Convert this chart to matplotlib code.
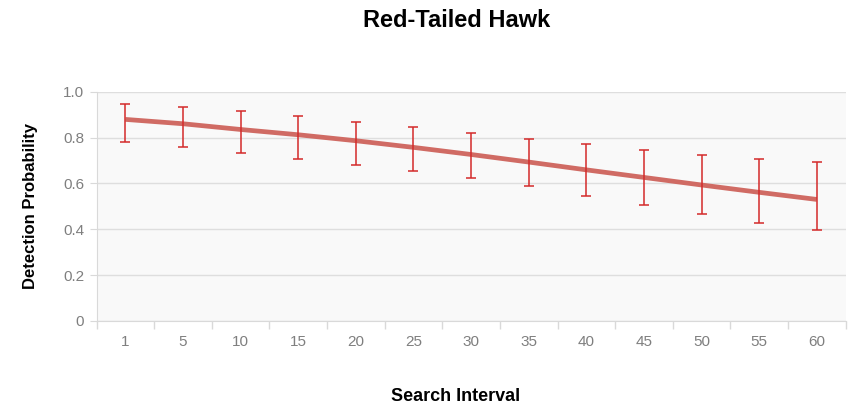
import numpy as np
import matplotlib
matplotlib.use("Agg")
import matplotlib.pyplot as plt

plt.rcParams['font.family'] = ['Liberation Sans', 'DejaVu Sans']

# data
intervals = ['1', '5', '10', '15', '20', '25', '30', '35', '40', '45', '50', '55', '60']
prob = [0.879, 0.860, 0.835, 0.812, 0.786, 0.757, 0.726, 0.693, 0.659, 0.626, 0.593, 0.561, 0.530]
upper = [0.946, 0.934, 0.915, 0.895, 0.869, 0.845, 0.819, 0.793, 0.770, 0.745, 0.725, 0.707, 0.694]
lower = [0.779, 0.758, 0.733, 0.707, 0.681, 0.655, 0.623, 0.587, 0.545, 0.504, 0.465, 0.428, 0.398]

x = np.arange(len(intervals))
prob = np.array(prob)
err = [prob - np.array(lower), np.array(upper) - prob]

fig = plt.figure(figsize=(8.55, 4.11), dpi=100)
ax = fig.add_axes([0.113, 0.219, 0.876, 0.558])
ax.set_facecolor('#f9f9f9')

ax.plot(x, prob, color='#d06b64', linewidth=3.4, solid_capstyle='butt', zorder=3)
ax.errorbar(x, prob, yerr=err, fmt='none', ecolor='#d42a2a', elinewidth=1.1,
            capsize=3.6, capthick=1.1, zorder=4)

ax.set_xlim(-0.5, len(intervals) - 0.5)
ax.set_ylim(0, 1.0)
ax.set_yticks([0, 0.2, 0.4, 0.6, 0.8, 1.0])
ax.set_yticklabels(['0', '0.2', '0.4', '0.6', '0.8', '1.0'])
ax.set_xticks(x)
ax.set_xticklabels(intervals)
ax.set_xticks(np.arange(len(intervals) + 1) - 0.5, minor=True)
ax.tick_params(axis='x', which='major', length=0, pad=10, labelsize=11, labelcolor='#7f7f7f')
ax.tick_params(axis='x', which='minor', length=6, color='#d9d9d9', width=1)
ax.tick_params(axis='y', length=5, color='#d9d9d9', labelsize=11, labelcolor='#7f7f7f', pad=4)

ax.grid(axis='y', color='#dedede', linewidth=1)
ax.set_axisbelow(True)
for s in ['top', 'right']:
    ax.spines[s].set_visible(False)
ax.spines['left'].set_color('#d9d9d9')
ax.spines['bottom'].set_color('#d9d9d9')

fig.text(0.534, 0.951, 'Red-Tailed Hawk', ha='center', va='center',
         fontsize=17, fontweight='bold')
fig.text(0.533, 0.036, 'Search Interval', ha='center', va='center',
         fontsize=13, fontweight='bold')
fig.text(0.036, 0.498, 'Detection Probability', ha='center', va='center',
         rotation=90, fontsize=12, fontweight='bold')

fig.savefig('out.png', dpi=100)
